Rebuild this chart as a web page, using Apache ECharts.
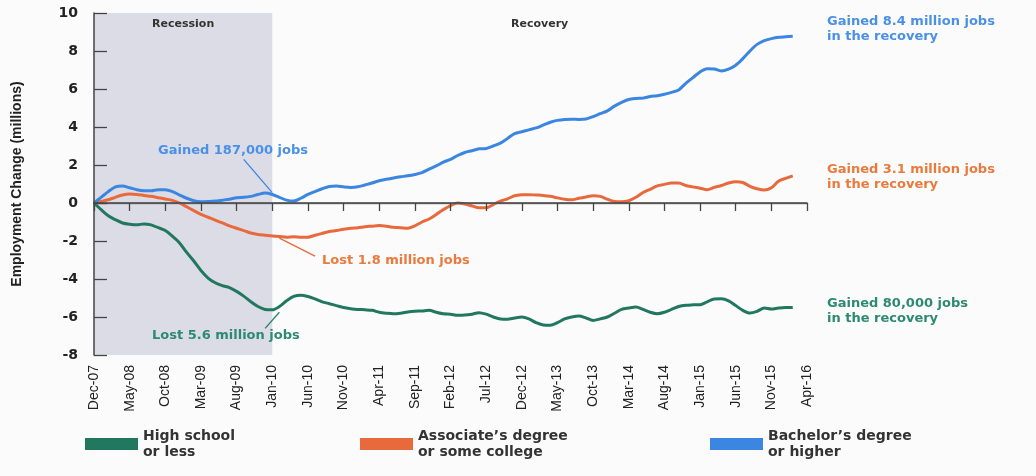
<!DOCTYPE html>
<html>
<head>
<meta charset="utf-8">
<script src="https://cdn.jsdelivr.net/npm/echarts@6/dist/echarts.min.js"></script>
<style>
html,body{margin:0;padding:0;background:#fbfbfb;}
#chart{width:1036px;height:476px;}
</style>
</head>
<body>
<div id="chart"></div>
<script>
// ---- Data ----
const months = (function(){
  const names=['Jan','Feb','Mar','Apr','May','Jun','Jul','Aug','Sep','Oct','Nov','Dec'];
  const out=[]; let y=2007, m=11;
  for(let i=0;i<101;i++){ out.push(names[m]+'-'+String(y%100).padStart(2,'0')); m++; if(m>11){m=0;y++;} }
  return out;
})();

const highSchool = [0,-0.35,-0.67,-0.88,-1.05,-1.12,-1.15,-1.1,-1.15,-1.3,
  -1.45,-1.75,-2.1,-2.6,-3.05,-3.55,-3.95,-4.2,-4.35,-4.45,
  -4.65,-4.9,-5.2,-5.45,-5.6,-5.62,-5.45,-5.15,-4.92,-4.85,
  -4.92,-5.05,-5.2,-5.3,-5.4,-5.5,-5.56,-5.6,-5.62,-5.65,
  -5.75,-5.8,-5.83,-5.8,-5.74,-5.7,-5.68,-5.65,-5.75,-5.83,
  -5.85,-5.91,-5.9,-5.85,-5.77,-5.85,-6.0,-6.1,-6.12,-6.05,
  -6.0,-6.1,-6.3,-6.42,-6.44,-6.3,-6.1,-6.0,-5.95,-6.05,
  -6.18,-6.1,-6.0,-5.8,-5.6,-5.53,-5.48,-5.6,-5.75,-5.83,
  -5.75,-5.6,-5.45,-5.38,-5.36,-5.35,-5.2,-5.05,-5.04,-5.15,
  -5.4,-5.65,-5.79,-5.7,-5.53,-5.58,-5.53,-5.5,-5.5];

const associate = [0,0.08,0.17,0.3,0.42,0.47,0.45,0.4,0.35,0.28,
  0.21,0.14,0.0,-0.2,-0.4,-0.6,-0.75,-0.9,-1.05,-1.2,
  -1.33,-1.45,-1.58,-1.66,-1.7,-1.74,-1.76,-1.8,-1.78,-1.8,
  -1.8,-1.7,-1.6,-1.5,-1.45,-1.38,-1.33,-1.3,-1.25,-1.22,
  -1.19,-1.22,-1.28,-1.3,-1.33,-1.2,-1.0,-0.84,-0.6,-0.35,
  -0.14,0.0,-0.05,-0.15,-0.25,-0.25,-0.08,0.1,0.22,0.38,
  0.43,0.44,0.42,0.4,0.35,0.27,0.2,0.17,0.25,0.32,
  0.38,0.35,0.2,0.08,0.06,0.12,0.3,0.55,0.72,0.9,
  0.98,1.05,1.05,0.92,0.85,0.78,0.7,0.82,0.92,1.05,
  1.12,1.08,0.88,0.75,0.68,0.8,1.15,1.3,1.43];

const bachelor = [0,0.3,0.6,0.85,0.9,0.8,0.7,0.65,0.65,0.7,
  0.7,0.6,0.42,0.25,0.12,0.07,0.08,0.1,0.15,0.2,
  0.28,0.3,0.35,0.45,0.52,0.45,0.3,0.15,0.1,0.25,
  0.45,0.6,0.75,0.87,0.9,0.85,0.82,0.85,0.95,1.05,
  1.17,1.25,1.32,1.38,1.43,1.5,1.6,1.78,1.95,2.15,
  2.3,2.5,2.66,2.75,2.85,2.87,3.0,3.15,3.4,3.65,
  3.75,3.85,3.95,4.1,4.25,4.35,4.4,4.41,4.4,4.42,
  4.55,4.7,4.85,5.1,5.3,5.45,5.5,5.52,5.6,5.65,
  5.72,5.82,5.95,6.3,6.6,6.9,7.07,7.05,6.95,7.05,
  7.25,7.6,8.0,8.35,8.55,8.65,8.72,8.75,8.78];

const yTicks = {min:-8, max:10, interval:2};
const seriesNames = ['High school\nor less', "Associate\u2019s degree\nor some college", "Bachelor\u2019s degree\nor higher"];
const colors = ['#22785e', '#e8693c', '#3b86e0'];
const recession = ['Dec-07','Jan-10'];

// ---- Chart ----
const chart = echarts.init(document.getElementById('chart'), null, {renderer:'canvas'});
const narrow = "'Liberation Sans Narrow','Liberation Sans',sans-serif";
const wide = "'DejaVu Sans',Verdana,sans-serif";

function lineSeries(name, data, color, extra){
  return Object.assign({
    name, type:'line', data, smooth:0.3, symbol:'none',
    lineStyle:{color, width:3}, itemStyle:{color}, z:3
  }, extra||{});
}
const arrowStyle = (c)=>({symbol:['none','arrow'], symbolSize:[0,8], silent:true, label:{show:false},
  lineStyle:{color:c, width:1.3, type:'solid'}});

chart.setOption({
  backgroundColor:'#fbfbfb',
  animation:false,
  grid:{left:94, right:229, top:13, bottom:121},
  xAxis:{
    type:'category', data:months, boundaryGap:false, z:5,
    axisLine:{lineStyle:{color:'#444', width:1.5}},
    axisTick:{interval:4, length:8, lineStyle:{color:'#444', width:1.3}},
    axisLabel:{interval:4, rotate:90, margin:10, fontFamily:narrow, fontSize:14, color:'#222'},
    splitLine:{show:false}
  },
  yAxis:{
    type:'value', min:yTicks.min, max:yTicks.max, interval:yTicks.interval, z:5,
    name:'Employment Change (millions)', nameLocation:'middle', nameGap:70,
    nameTextStyle:{fontFamily:narrow, fontWeight:'bold', fontSize:14, color:'#222'},
    axisLine:{show:true, lineStyle:{color:'#444', width:1.5}},
    axisTick:{show:true, inside:true, length:13, lineStyle:{color:'#444', width:1.3}},
    axisLabel:{margin:16, fontFamily:wide, fontWeight:'bold', fontSize:14, color:'#222'},
    splitLine:{show:false}
  },
  legend:[0,1,2].map((i)=>({
    data:[seriesNames[i]], left:[80,355,705][i], top:423, icon:'rect',
    itemWidth:53, itemHeight:12, itemGap:10,
    textStyle:{fontFamily:wide, fontWeight:'bold', fontSize:14, color:'#333', lineHeight:16}
  })),
  series:[
    lineSeries(seriesNames[0], highSchool, colors[0], {
      markLine:Object.assign(arrowStyle('#2a8267'),{data:[[{coord:[24,-6.6]},{coord:[26,-5.75]}]]})
    }),
    lineSeries(seriesNames[1], associate, colors[1], {
      markLine:Object.assign(arrowStyle('#e8693c'),{data:[[{coord:[31,-2.8]},{coord:[26,-1.85]}]]})
    }),
    lineSeries(seriesNames[2], bachelor, colors[2], {
      markLine:Object.assign(arrowStyle('#3b86e0'),{data:[[{coord:[21,2.3]},{coord:[25,0.55]}]]})
    }),
    {
      type:'line', data:[], silent:true, z:-1,
      markArea:{silent:true, data:[
        [{xAxis:recession[0], itemStyle:{color:'#dcdce7'}, label:{show:true, position:'insideTop', distance:6, formatter:'Recession', fontFamily:wide, fontWeight:'bold', fontSize:11, color:'#333'}},{xAxis:recession[1]}],
        [{xAxis:recession[1], itemStyle:{color:'rgba(0,0,0,0)'}, label:{show:true, position:'insideTop', distance:6, formatter:'Recovery', fontFamily:wide, fontWeight:'bold', fontSize:11, color:'#333'}},{xAxis:months[months.length-1]}]
      ]},
      markLine:{silent:true, symbol:'none', label:{show:false}, lineStyle:{color:'#888', width:1.3, type:'solid'}, data:[{yAxis:0}]}
    }
  ],
  graphic:[
    {type:'text', z:100, left:158, top:144, style:{text:'Gained 187,000 jobs', font:"bold 13px 'DejaVu Sans'", fill:'#4a90e6'}},
    {type:'text', z:100, left:322, top:254, style:{text:'Lost 1.8 million jobs', font:"bold 13px 'DejaVu Sans'", fill:'#ea7a3c'}},
    {type:'text', z:100, left:152, top:329, style:{text:'Lost 5.6 million jobs', font:"bold 13px 'DejaVu Sans'", fill:'#2d8a70'}},
    {type:'text', z:100, left:827, top:14, style:{text:'Gained 8.4 million jobs\nin the recovery', font:"bold 13px 'DejaVu Sans'", lineHeight:15, fill:'#4a90e6'}},
    {type:'text', z:100, left:827, top:162, style:{text:'Gained 3.1 million jobs\nin the recovery', font:"bold 13px 'DejaVu Sans'", lineHeight:15, fill:'#ea7a3c'}},
    {type:'text', z:100, left:827, top:296, style:{text:'Gained 80,000 jobs\nin the recovery', font:"bold 13px 'DejaVu Sans'", lineHeight:15, fill:'#2d8a70'}}
  ]
});
</script>
</body>
</html>
